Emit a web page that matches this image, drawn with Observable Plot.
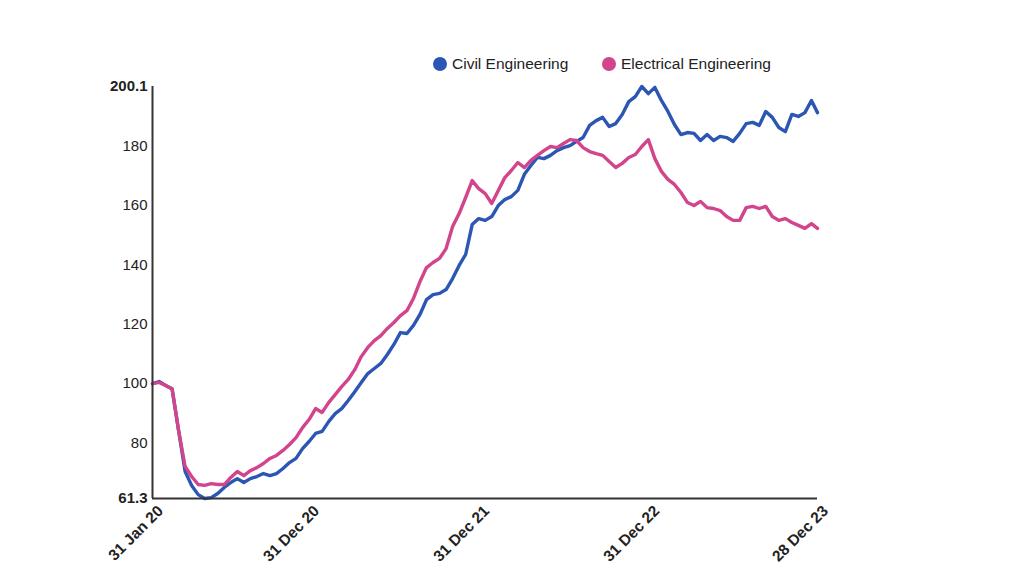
<!DOCTYPE html>
<html><head><meta charset="utf-8">
<script src="https://cdn.jsdelivr.net/npm/d3@7"></script>
<script src="https://cdn.jsdelivr.net/npm/@observablehq/plot@0.6"></script>
<style>
body{margin:0;background:#fff;font-family:"Liberation Sans",Arial,sans-serif;}
#legend{position:relative;height:76px;width:1022px;}
.item{position:absolute;top:55px;display:flex;align-items:center;font-size:15.5px;color:#222;line-height:18px;}
.dot{width:14px;height:14px;border-radius:50%;margin-right:5px;}
</style></head><body>
<div id="legend"></div>
<div id="chart"></div>
<script>
const startDate = "2020-01-31";
const endDate = "2023-12-28";
const stepDays = 14;
const seriesNames = ["Civil Engineering", "Electrical Engineering"];
const seriesColors = ["#2b56b3", "#d2448b"];
const civil = [100.0,100.7,99.4,98.3,84.2,70.4,65.7,62.6,61.3,61.6,63.0,65.0,66.7,68.0,66.7,68.0,68.7,69.7,69.0,69.7,
71.4,73.4,74.8,78.1,80.5,83.2,83.9,87.2,89.9,91.6,94.3,97.3,100.4,103.4,105.1,106.8,109.8,113.2,117.2,116.9,
119.6,123.3,128.3,130.0,130.4,131.7,135.4,139.8,143.5,153.6,155.6,155.0,156.3,160.0,162.0,163.0,165.1,170.5,173.5,176.2,
175.8,176.9,178.5,179.5,180.2,181.6,182.9,187.0,188.6,189.7,186.6,187.6,190.7,195.0,196.7,200.1,197.7,199.8,195.4,191.7,
187.3,183.9,184.6,184.3,181.9,183.9,181.9,183.3,182.9,181.6,184.3,187.6,188.0,187.0,191.7,189.7,186.3,184.9,190.7,190.0,
191.3,195.4,191.3];
const electrical = [100.0,100.4,99.4,98.3,84.2,72.1,68.7,66.0,65.7,66.3,66.0,66.0,68.4,70.4,69.0,70.7,71.7,73.1,74.8,75.8,
77.5,79.5,81.8,85.2,87.9,91.6,90.3,93.6,96.3,99.0,101.4,104.7,109.1,112.2,114.5,116.2,118.6,120.6,122.9,124.6,
128.7,134.4,139.1,140.8,142.2,145.5,152.9,157.3,162.7,168.4,165.7,164.0,160.7,165.1,169.4,171.8,174.5,172.8,175.2,176.9,
178.5,179.9,179.5,180.9,182.2,181.9,179.5,178.2,177.5,176.9,174.8,172.8,174.2,176.2,177.2,179.9,182.2,175.8,171.5,168.8,
167.1,164.4,161.0,160.0,161.4,159.3,159.0,158.3,156.3,155.0,155.0,159.3,159.7,159.0,159.7,156.3,155.0,155.6,154.3,153.3,
152.3,153.9,152.3];
const xTicks = ["2020-01-31", "2020-12-31", "2021-12-31", "2022-12-31", "2023-12-28"];
const xTickLabels = ["31 Jan 20", "31 Dec 20", "31 Dec 21", "31 Dec 22", "28 Dec 23"];
const yTicks = [80, 100, 120, 140, 160, 180];
const yEnds = [61.3, 200.1];

// legend
const legend = document.getElementById("legend");
const legendLeft = [433, 602];
seriesNames.forEach((n, i) => {
  const it = document.createElement("div");
  it.className = "item";
  it.style.left = legendLeft[i] + "px";
  it.innerHTML = `<span class="dot" style="background:${seriesColors[i]}"></span><span>${n}</span>`;
  legend.appendChild(it);
});

const start = new Date(startDate);
const end = new Date(endDate);
const dates = civil.map((_, i) => i === civil.length - 1 ? end : d3.utcDay.offset(start, i * stepDays));
const data = [];
civil.forEach((v, i) => data.push({date: dates[i], value: v, series: seriesNames[0]}));
electrical.forEach((v, i) => data.push({date: dates[i], value: v, series: seriesNames[1]}));
const labelMap = new Map(xTicks.map((d, i) => [+new Date(d), xTickLabels[i]]));

const chart = Plot.plot({
  width: 1022,
  height: 511,
  marginTop: 10,
  marginBottom: 89,
  marginLeft: 152,
  marginRight: 205,
  style: {fontFamily: "Liberation Sans, Arial, sans-serif", fontSize: "15px", color: "#222"},
  x: {type: "utc", domain: [start, end]},
  y: {domain: yEnds},
  color: {domain: seriesNames, range: seriesColors},
  marks: [
    Plot.axisY({ticks: yTicks, tickSize: 0, tickPadding: 5, label: null, fontSize: 15}),
    Plot.axisY({ticks: yEnds, tickSize: 0, tickPadding: 5, label: null, fontWeight: "bold", fontSize: 15, tickFormat: d => String(d)}),
    Plot.axisX({ticks: xTicks.map(d => new Date(d)), tickSize: 0, tickPadding: 4, tickRotate: -45, label: null,
      fontWeight: "bold", fontSize: 15.5, dx: 8, dy: 6, tickFormat: d => labelMap.get(+d)}),
    Plot.line(data, {x: "date", y: "value", z: "series", stroke: "series", strokeWidth: 3.4, strokeLinejoin: "round"}),
    Plot.ruleY([yEnds[0]], {stroke: "#333", strokeWidth: 2}),
    Plot.ruleX([start], {stroke: "#333", strokeWidth: 2})
  ]
});
document.getElementById("chart").appendChild(chart);
</script>
</body></html>
